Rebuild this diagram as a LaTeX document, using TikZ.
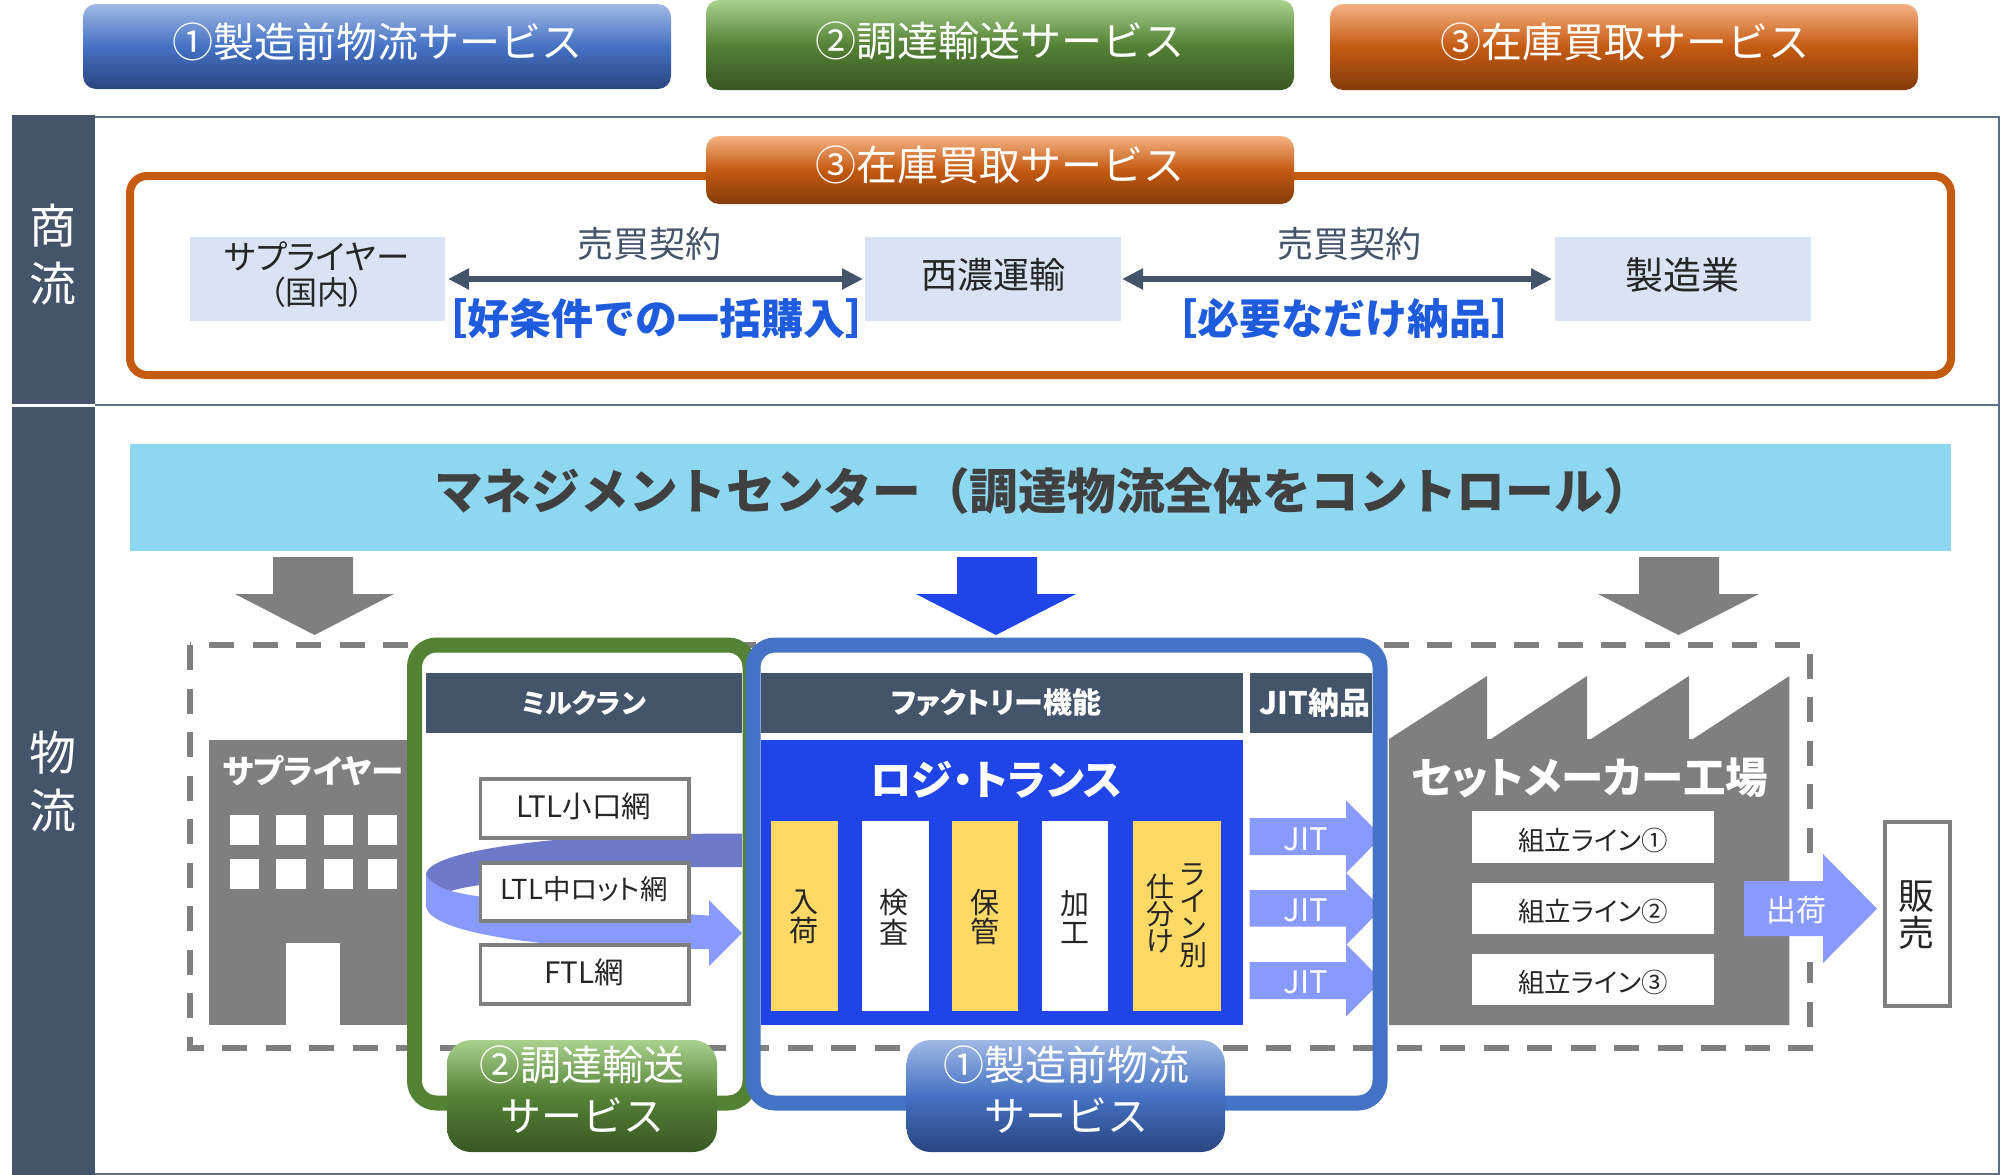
\documentclass[tikz,border=0pt]{standalone}
\usepackage{fontspec}
\setmainfont{Noto Sans CJK JP}[RawFeature=+palt]
\newfontfamily\fullw{Noto Sans CJK JP}
\usetikzlibrary{arrows.meta}
\definecolor{bandc}{HTML}{44546A}
\definecolor{framec}{HTML}{5F7084}
\definecolor{grayc}{HTML}{7F7F7F}
\definecolor{paleb}{HTML}{DAE3F3}
\definecolor{skyc}{HTML}{8DD7F0}
\definecolor{royal}{HTML}{1F45E8}
\definecolor{yel}{HTML}{FFD966}
\definecolor{peri}{HTML}{8899FF}
\definecolor{perid}{HTML}{6E79C9}
\definecolor{oranc}{HTML}{C55A11}
\definecolor{greenc}{HTML}{548235}
\definecolor{bluec}{HTML}{4472C4}
\definecolor{txtblue}{HTML}{1F5CDD}
\definecolor{txtd}{HTML}{262626}
\definecolor{bluetop}{HTML}{A0B8E4}
\definecolor{bluebot}{HTML}{2A4580}
\definecolor{greentop}{HTML}{A9D18E}
\definecolor{greenbot}{HTML}{385723}
\definecolor{orantop}{HTML}{F4B183}
\definecolor{oranbot}{HTML}{843C0C}
\newcommand\fsz[2]{\fontsize{#1}{#2}\selectfont}
\newcommand\bx[7]{\node[#6,minimum width={(#4-#2)*1pt},minimum height={(#5-#3)*1pt}] (#1) at ({(#2+#4)/2},{(#3+#5)/2}) {#7};}
\tikzset{
 base/.style={inner sep=0pt,outer sep=0pt,rectangle},
 btnb/.style={base,rounded corners=13pt,top color=bluetop,bottom color=bluebot,middle color=bluec,text=white},
 btng/.style={base,rounded corners=13pt,top color=greentop,bottom color=greenbot,middle color=greenc,text=white},
 btno/.style={base,rounded corners=13pt,top color=orantop,bottom color=oranbot,middle color=oranc,text=white},
 band/.style={base,fill=bandc},
 bandt/.style={inner sep=0pt,outer sep=0pt,text=white,align=center,font=\fsz{47}{58}},
 pale/.style={base,fill=paleb},
 head/.style={base,fill=bandc,text=white,font=\fsz{27}{30}\bfseries},
 col/.style={base,text=txtd,align=center,font=\fsz{29}{29.5}},
 colw/.style={base,text=txtd,align=center,font=\fsz{28}{27}},
 netb/.style={base,fill=white,draw=grayc,line width=3.5pt},
 wht/.style={base,fill=white},
 win/.style={base,fill=white},
 lbl/.style={inner sep=0pt,outer sep=0pt},
 svct/.style={lbl,text=white,align=center,font=\fullw\fsz{41}{51}},
 blockp/.style={fill=peri,draw=none},
 dbl/.style={{Triangle[length=21pt,width=20pt]}-{Triangle[length=21pt,width=20pt]},line width=5.5pt,draw=bandc},
 dashbox/.style={draw=grayc,line width=6pt,dash pattern=on 25pt off 18.5pt},
 svcframe/.style={line width=15pt,rounded corners=22pt},
}
\begin{document}
\begin{tikzpicture}[x=1pt,y=-1pt]
\useasboundingbox (0,0) rectangle (2000,1175);
\fill[white] (0,0) rectangle (2000,1175);
% outer frame
\draw[framec,line width=2.5pt] (95,117) -- (1999,117) -- (1999,1174) -- (95,1174);
\draw[framec,line width=2.5pt] (95,405) -- (1999,405);
\bx{bandA}{11.5}{115}{95}{404}{band}{}
\bx{bandB}{11.5}{407}{95}{1175}{band}{}
\node[bandt] (bandAt) at (53,254.5) {商\\流};
\node[bandt] (bandBt) at (53,782) {物\\流};
% top buttons
\bx{topA}{83}{4}{671}{89}{btnb}{}
\node[svct] (topAt) at (377,42) {①製造前物流サービス};
\bx{topB}{706}{0}{1294}{90}{btng}{}
\node[svct] (topBt) at (1000,41) {②調達輸送サービス};
\bx{topC}{1330}{4}{1918}{90}{btno}{}
\node[svct] (topCt) at (1625,42) {③在庫買取サービス};
% commerce
\draw[oranc,line width=8pt,rounded corners=17pt] (130,176) rectangle (1951,375);
\bx{zaiko}{706}{136}{1294}{204}{btno}{}
\node[svct] (zaikoT) at (1000,165) {③在庫買取サービス};
\bx{sup}{190}{237}{445}{321}{pale}{}
\node[lbl,text=txtd,font=\fsz{33.5}{36}] (supA) at (317,256) {サプライヤー};
\node[lbl,text=txtd,font=\fsz{32}{36}] (supB) at (317,292) {（国内）};
\bx{nishi}{865}{237}{1121}{321}{pale}{}
\node[lbl,text=txtd,font=\fsz{36}{40}] (nishiT) at (993,275) {西濃運輸};
\bx{maker}{1555}{237}{1811}{321}{pale}{}
\node[lbl,text=txtd,font=\fsz{38}{40}] (makerT) at (1682,275) {製造業};
\draw[dbl,shorten <=3pt,shorten >=2pt] (sup.east) -- (nishi.west);
\draw[dbl,shorten <=1pt,shorten >=3pt] (nishi.east) -- (maker.west);
\node[lbl,text=bandc,font=\fsz{36}{40}] (ctA) at (649,244) {売買契約};
\node[lbl,text=bandc,font=\fsz{36}{40}] (ctB) at (1349,244) {売買契約};
\node[lbl,text=txtblue,font=\fullw\fsz{42}{44}\bfseries] (condA) at (656,319) {［好条件での一括購入］};
\node[lbl,text=txtblue,font=\fullw\fsz{42}{44}\bfseries] (condB) at (1344,319) {［必要なだけ納品］};
% management
\bx{mgmt}{130}{444}{1951}{551}{base,fill=skyc}{}
\node[lbl,text=black!75,font=\fullw\fsz{48.7}{56}\bfseries] (mgmtT) at (1043,491) {マネジメントセンター（調達物流全体をコントロール）};
\fill[grayc] (273,557) -- (353,557) -- (353,594) -- (394,594) -- (314.5,635) -- (235,594) -- (273,594) -- cycle;
\fill[royal] (957,557) -- (1037,557) -- (1037,594) -- (1076,594) -- (996,635) -- (916,594) -- (957,594) -- cycle;
\fill[grayc] (1639,557) -- (1719,557) -- (1719,594) -- (1759,594) -- (1678.5,635) -- (1598,594) -- (1639,594) -- cycle;
% dashed region
\draw[dashbox] (190,645) rectangle (1810,1048);
\fill[white] (1804,859) rectangle (1816,962);
% supplier building
\fill[grayc] (209,740) rectangle (410,1025);
\fill[white] (286,943) rectangle (340,1025);
\bx{w1}{230}{815}{259}{845}{win}{}
\bx{w2}{276}{815}{306}{845}{win}{}
\bx{w3}{324}{815}{353}{845}{win}{}
\bx{w4}{368}{815}{397}{845}{win}{}
\bx{w5}{230}{859}{259}{889}{win}{}
\bx{w6}{276}{859}{306}{889}{win}{}
\bx{w7}{324}{859}{353}{889}{win}{}
\bx{w8}{368}{859}{397}{889}{win}{}
\node[lbl,text=white,font=\fsz{32.5}{36}\bfseries] (supT) at (313,771) {サプライヤー};
% factory
\fill[grayc] (1389,739) -- (1487,676) -- (1487,739) -- (1491,739) -- (1587,676) -- (1587,739) -- (1591,739) -- (1689,676) -- (1689,739) -- (1693,739) -- (1789.4,676) -- (1789.4,1025) -- (1389,1025) -- cycle;
\node[lbl,text=white,font=\fsz{42.5}{46}\bfseries] (facT) at (1590,778) {セットメーカー工場};
\bx{lineA}{1472.4}{811}{1714}{863}{wht}{}
\bx{lineB}{1472.4}{883}{1714}{934}{wht}{}
\bx{lineC}{1472.4}{954}{1714}{1005}{wht}{}
\node[lbl,text=txtd,font=\fsz{26.5}{32}] (lineAt) at (1593,840) {組立ライン①};
\node[lbl,text=txtd,font=\fsz{26.5}{32}] (lineBt) at (1593,911) {組立ライン②};
\node[lbl,text=txtd,font=\fsz{26.5}{32}] (lineCt) at (1593,982) {組立ライン③};
% ship arrow
\path[blockp] (1744,881) -- (1823,881) -- (1823,854) -- (1877,908.7) -- (1823,963) -- (1823,936) -- (1744,936) -- cycle;
\node[lbl,text=white,font=\fsz{30}{34}] (ship) at (1796,910) {出荷};
\bx{sales}{1884.75}{821.75}{1949.75}{1006}{base,fill=white,draw=grayc,line width=3.5pt}{}
\node[lbl,text=txtd,align=center,font=\fsz{36}{37}] (salesT) at (1916,915) {販\\売};
% milk run
\bx{hMilk}{426}{673}{742}{733}{head}{ミルクラン}
\path[fill=peri] (426,875) .. controls (430,882) and (440,888) .. (451,891) .. controls (470,896) and (500,900) .. (560,905) -- (709,915.6) -- (709,900) -- (742,933) -- (709,966) -- (709,949) -- (640,949) .. controls (560,948) and (426,935) .. (426,905) -- cycle;
\path[fill=perid] (742,833.5) -- (660,834) .. controls (560,836) and (426,850) .. (426,875) .. controls (430,882) and (440,888) .. (451,891) .. controls (460,888) and (468,887) .. (480,885) -- (691,867) -- (742,867) -- cycle;
\bx{ltlA}{480.5}{779}{689}{838}{netb}{}
\bx{ltlB}{480.5}{863}{689}{921}{netb}{}
\bx{ftl}{480.5}{945}{689}{1004}{netb}{}
\node[lbl,text=txtd,font=\fsz{29.5}{32}] (ltlAt) at (584,806.5) {LTL小口網};
\node[lbl,text=txtd,font=\fsz{27.5}{32}] (ltlBt) at (584,889) {LTL中ロット網};
\node[lbl,text=txtd,font=\fsz{29.5}{32}] (ftlT) at (584,972) {FTL網};
% factory function
\bx{hFac}{761}{673}{1243}{733}{base,fill=bandc}{}
\node[lbl,text=white,font=\fsz{29}{30}\bfseries] (hFacT) at (996,703) {ファクトリー機能};
\bx{hJit}{1249.5}{673}{1372}{733}{base,fill=bandc}{}
\node[lbl,text=white,font=\fsz{31}{30}\bfseries] (hJitT) at (1315,703) {JIT納品};
\bx{logi}{761}{740}{1243}{1025}{base,fill=royal}{}
\node[lbl,text=white,font=\fsz{41.5}{46}\bfseries] (logiT) at (996,779.5) {ロジ・トランス};
\bx{cA}{771}{821}{838}{1011}{base,fill=yel}{}
\bx{cB}{861.5}{821}{928.5}{1011}{base,fill=white}{}
\bx{cC}{952}{821}{1018}{1011}{base,fill=yel}{}
\bx{cD}{1042}{821}{1108}{1011}{base,fill=white}{}
\bx{cE}{1133}{821}{1221}{1011}{base,fill=yel}{}
\node[col] (cAt) at (804,917) {入\\荷};
\node[col] (cBt) at (894,917) {検\\査};
\node[col] (cCt) at (985,917) {保\\管};
\node[col] (cDt) at (1075,917) {加\\工};
\node[colw] (cE1) at (1193,916) {ラ\\イ\\ン\\別};
\node[colw] (cE2) at (1160,914) {仕\\分\\け};
% JIT arrows
\path[blockp] (1249.5,818) -- (1346,818) -- (1346,800.5) -- (1382,836.5) -- (1346,873) -- (1346,855) -- (1249.5,855) -- cycle;
\path[blockp] (1249.5,890) -- (1346,890) -- (1346,873) -- (1382,908.5) -- (1346,945) -- (1346,926.5) -- (1249.5,926.5) -- cycle;
\path[blockp] (1249.5,962) -- (1346,962) -- (1346,944) -- (1382,980.5) -- (1346,1016.5) -- (1346,999) -- (1249.5,999) -- cycle;
\node[lbl,text=white,font=\fsz{31}{34}] (jA) at (1306,839) {JIT};
\node[lbl,text=white,font=\fsz{31}{34}] (jB) at (1306,910) {JIT};
\node[lbl,text=white,font=\fsz{31}{34}] (jC) at (1306,982) {JIT};
% service frames
\draw[greenc,svcframe] (414.5,645) rectangle (750,1103);
\draw[bluec,svcframe] (753,645) rectangle (1380,1103);
\bx{lblG}{447}{1040}{717}{1152}{btng,rounded corners=24pt}{}
\bx{lblB}{906.6}{1040}{1225}{1152}{btnb,rounded corners=24pt}{}
\node[svct] (lblGt) at (582,1090) {②調達輸送\\サービス};
\node[svct] (lblBt) at (1066,1090) {①製造前物流\\サービス};
\end{tikzpicture}
\end{document}
